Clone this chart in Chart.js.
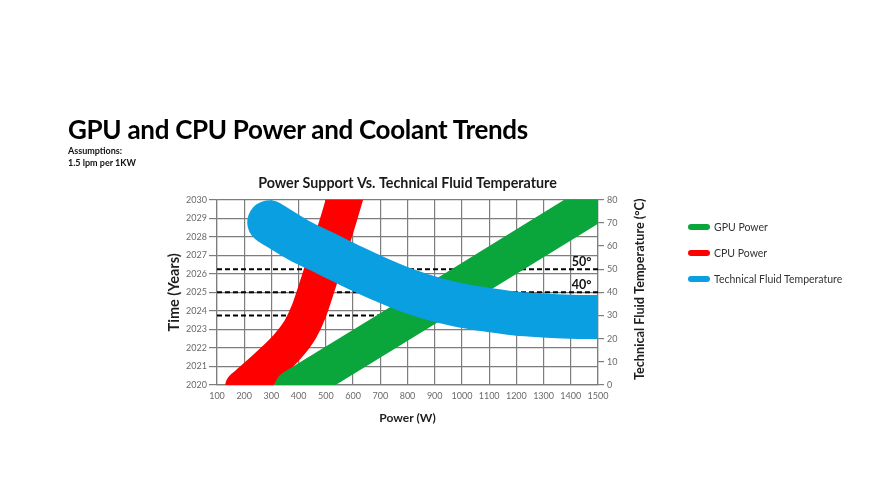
<!DOCTYPE html>
<html><head><meta charset="utf-8">
<script src="https://cdn.jsdelivr.net/npm/chart.js@4.4.1/dist/chart.umd.min.js"></script>
<style>
html,body{margin:0;padding:0;background:#fff;width:875px;height:501px;overflow:hidden;font-family:Lato,sans-serif;}
#wrap{position:relative;width:875px;height:501px;}
canvas{position:absolute;left:0;top:0;}
#title{position:absolute;left:68px;top:116px;font-weight:700;font-size:26px;line-height:26px;letter-spacing:-0.3px;color:#000;white-space:nowrap;}
.assume{position:absolute;left:68px;font-weight:700;font-size:9px;line-height:12px;color:#111;white-space:nowrap;}
#legend{position:absolute;left:688px;top:214px;}
.li{height:26px;display:flex;align-items:center;font-size:10.5px;color:#333;white-space:nowrap;}
.sw{width:22px;height:6px;border-radius:3px;margin-right:4px;}
</style></head>
<body>
<div id="wrap">
  <canvas id="c" width="875" height="501"></canvas>
  <div id="title">GPU and CPU Power and Coolant Trends</div>
  <div class="assume" style="top:145px">Assumptions:</div>
  <div class="assume" style="top:157px">1.5 lpm per 1KW</div>
  <div id="legend"></div>
</div>
<script>
// ---- data ----
const xTicks = [100,200,300,400,500,600,700,800,900,1000,1100,1200,1300,1400,1500];
const yearTicks = [2020,2021,2022,2023,2024,2025,2026,2027,2028,2029,2030];
const tempTicks = [0,10,20,30,40,50,60,70,80];

const seriesNames = ['GPU Power','CPU Power','Technical Fluid Temperature'];
const seriesColors = ['#0aa53b','#ff0000','#099fe1'];

const gpuPower = [380, 700, 1000, 1560];
const gpuYear  = [2019.8, 2022.68, 2025.39, 2030.45];

const cpuPower = [195, 284, 354, 406, 438, 461, 483, 505, 527, 548, 568, 588];
const cpuYear  = [2019.85, 2021, 2022, 2023, 2024, 2025, 2026, 2027, 2028, 2029, 2030, 2031];

const fluidPower = [292, 400, 500, 600, 700, 800, 900, 1000, 1100, 1200, 1300, 1400, 1500, 1560];
const fluidTemp  = [70.2, 62.5, 56.8, 51.0, 45.6, 40.8, 37.0, 34.3, 32.4, 30.8, 30.0, 29.5, 29.3, 29.3];

const refTemps  = [50, 40, 30];
const refLabels = ['50°', '40°', ''];

const chartTitle = 'Power Support Vs. Technical Fluid Temperature';
const xTitle = 'Power (W)';
const yTitle = 'Time (Years)';
const y1Title = 'Technical Fluid Temperature (°C)';

// ---- build ----
const zip = (xs, ys) => xs.map((x, i) => ({x, y: ys[i]}));
const gridColor = '#7d7d7d';
const tickColor = '#6a6a6a';
Chart.defaults.font.family = 'Lato, sans-serif';

const band = (i, data, axis, order, width) => ({
  label: seriesNames[i], data, yAxisID: axis, order,
  borderColor: seriesColors[i], backgroundColor: seriesColors[i],
  borderWidth: width, borderCapStyle: 'round', borderJoinStyle: 'round',
  pointRadius: 0, showLine: true, fill: false, cubicInterpolationMode: 'monotone', clip: 0
});

const refSets = refTemps.map(t => ({
  label: 'ref' + t,
  data: [{x: xTicks[0], y: t}, {x: xTicks[xTicks.length - 1], y: t}],
  yAxisID: 'y1', order: 5, borderColor: '#000', borderWidth: 2, borderDash: [5, 3],
  pointRadius: 0, showLine: true, fill: false, clip: 0
}));

const refLabelPlugin = {
  id: 'refLabels',
  afterDatasetsDraw(chart) {
    const {ctx, scales} = chart;
    ctx.save();
    ctx.font = 'bold 12.5px Lato, sans-serif';
    ctx.fillStyle = '#111';
    ctx.textAlign = 'center';
    ctx.textBaseline = 'alphabetic';
    refTemps.forEach((t, i) => {
      if (!refLabels[i]) return;
      ctx.fillText(refLabels[i], scales.x.getPixelForValue(1440), scales.y1.getPixelForValue(t) - 3);
    });
    ctx.restore();
  }
};

// right-axis title reading bottom-to-top, as in the reference
const rightTitlePlugin = {
  id: 'rightTitle',
  afterDraw(chart) {
    const {ctx, chartArea} = chart;
    ctx.save();
    ctx.font = 'bold 12.7px Lato, sans-serif';
    ctx.fillStyle = '#1e1e1e';
    ctx.textAlign = 'center';
    ctx.textBaseline = 'middle';
    ctx.translate(chartArea.right + 42, (chartArea.top + chartArea.bottom) / 2 - 3);
    ctx.rotate(-Math.PI / 2);
    ctx.fillText(y1Title, 0, 0);
    ctx.restore();
  }
};

new Chart(document.getElementById('c'), {
  type: 'scatter',
  data: {
    datasets: [
      band(2, zip(fluidPower, fluidTemp), 'y1', 0, 44),
      band(0, zip(gpuPower, gpuYear), 'y', 1, 38),
      band(1, zip(cpuPower, cpuYear), 'y', 2, 36),
      ...refSets
    ]
  },
  plugins: [refLabelPlugin, rightTitlePlugin],
  options: {
    responsive: false, animation: false, devicePixelRatio: 1, events: [],
    layout: {padding: {left: 165, right: 219, top: 175, bottom: 71}},
    plugins: {
      legend: {display: false},
      tooltip: {enabled: false},
      title: {display: true, text: chartTitle, fullSize: false, color: '#1a1a1a',
              font: {size: 14.3, weight: 'bold'}, padding: {top: 0, bottom: 7.5}}
    },
    scales: {
      x: {
        type: 'linear', min: xTicks[0], max: xTicks[xTicks.length - 1],
        afterBuildTicks: s => { s.ticks = xTicks.map(v => ({value: v})); },
        ticks: {callback: v => String(v), font: {size: 9}, color: tickColor, padding: 6, autoSkip: false, maxRotation: 0},
        grid: {color: gridColor, lineWidth: 1.2, drawTicks: false},
        border: {color: gridColor, width: 1.2},
        title: {display: true, text: xTitle, color: '#1e1e1e', font: {size: 12, weight: 'bold'}, padding: {top: 0, bottom: 5}},
        afterFit: s => { s.height = 45; }
      },
      y: {
        type: 'linear', position: 'left', min: yearTicks[0], max: yearTicks[yearTicks.length - 1],
        afterBuildTicks: s => { s.ticks = yearTicks.map(v => ({value: v})); },
        ticks: {callback: v => String(v), font: {size: 9}, color: tickColor, padding: 2, autoSkip: false},
        grid: {color: gridColor, lineWidth: 1.2, tickLength: 8},
        border: {color: gridColor, width: 1.2},
        title: {display: true, text: yTitle, color: '#1e1e1e', font: {size: 14.5, weight: 'bold'}, padding: {top: 1, bottom: 0}},
        afterFit: s => { s.width = 52; }
      },
      y1: {
        type: 'linear', position: 'right', min: tempTicks[0], max: tempTicks[tempTicks.length - 1],
        afterBuildTicks: s => { s.ticks = tempTicks.map(v => ({value: v})); },
        ticks: {callback: v => String(v), font: {size: 9}, color: tickColor, padding: 3, autoSkip: false},
        grid: {color: gridColor, lineWidth: 1.2, tickLength: 6, drawOnChartArea: false},
        border: {color: gridColor, width: 1.2},
        title: {display: false, text: y1Title},
        afterFit: s => { s.width = 58; }
      }
    }
  }
});

// HTML legend built from series arrays
const lg = document.getElementById('legend');
seriesNames.forEach((n, i) => {
  const row = document.createElement('div'); row.className = 'li';
  const sw = document.createElement('span'); sw.className = 'sw'; sw.style.background = seriesColors[i];
  const tx = document.createElement('span'); tx.textContent = n;
  row.appendChild(sw); row.appendChild(tx); lg.appendChild(row);
});
</script>
</body></html>
